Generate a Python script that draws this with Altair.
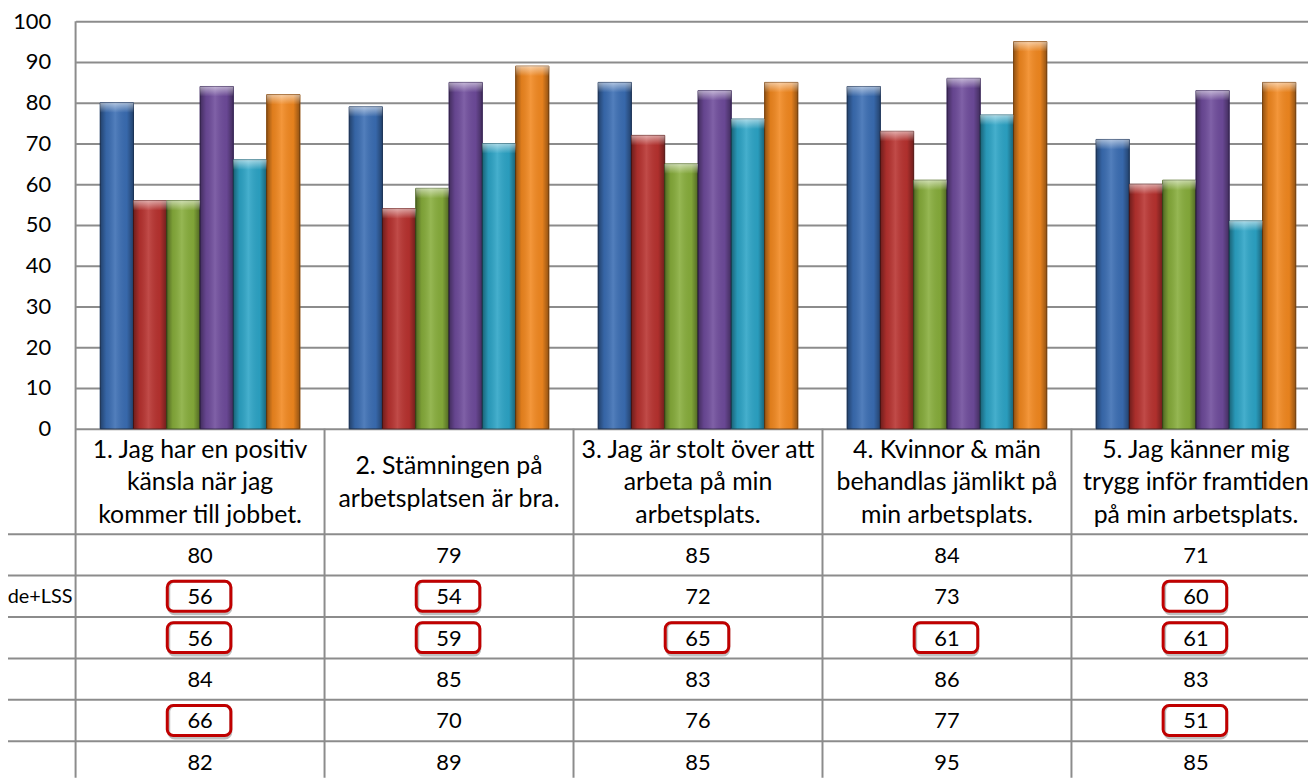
import altair as alt
import pandas as pd

# ---------------- data ----------------
categories = [
    "1. Jag har en positiv\nkänsla när jag\nkommer till jobbet.",
    "2. Stämningen på\narbetsplatsen är bra.",
    "3. Jag är stolt över att\narbeta på min\narbetsplats.",
    "4. Kvinnor & män\nbehandlas jämlikt på\nmin arbetsplats.",
    "5. Jag känner mig\ntrygg inför framtiden\npå min arbetsplats.",
]
series = ["Serie 1", "Serie 2", "Serie 3", "Serie 4", "Serie 5", "Serie 6"]
row_labels = ["", "de+LSS", "", "", "", ""]

s1 = [80, 79, 85, 84, 71]
s2 = [56, 54, 72, 73, 60]
s3 = [56, 59, 65, 61, 61]
s4 = [84, 85, 83, 86, 83]
s5 = [66, 70, 76, 77, 51]
s6 = [82, 89, 85, 95, 85]

# cells marked with a red box in the data table (1 = marked)
m1 = [0, 0, 0, 0, 0]
m2 = [1, 1, 0, 0, 1]
m3 = [1, 1, 1, 1, 1]
m4 = [0, 0, 0, 0, 0]
m5 = [1, 0, 0, 0, 1]
m6 = [0, 0, 0, 0, 0]

y_ticks = list(range(0, 101, 10))

# ---------------- styles / layout ----------------
fills = ["#3A6DB3", "#B8322F", "#87AD3B", "#6E4B9B", "#2CA4C6", "#F2881F"]
strokes = ["#1E3A66", "#6E1C1A", "#4F6B1F", "#3C2660", "#1B6276", "#92500F"]
FONT = "Lato"
FS = 22
FS_HEAD = 25
FS_ROWLAB = 20
LH_HEAD = 32.5
LINE = "#8C8C8C"

VIEW_W, VIEW_H = 1240, 761
PX_UNIT = 4.1          # pixels per value unit
CAT_PX = 250.5         # pixels per category column
X_MAX = VIEW_W / CAT_PX
Y_MIN = -(VIEW_H - 100 * PX_UNIT) / PX_UNIT
HEADER_PX = 106
ROW_PX = 41.67
LEFT_PX = 68
BAR_W = 33.5 / CAT_PX
GAP = (1 - 6 * BAR_W) / 2
CAP_PX = 10
BOX_W = 64 / CAT_PX
BOX_H = 30 / PX_UNIT

values = [s1, s2, s3, s4, s5, s6]
marked = [m1, m2, m3, m4, m5, m6]

rows = []
for si, (name, vals, mk) in enumerate(zip(series, values, marked)):
    for ci, v in enumerate(vals):
        rows.append(dict(series=name, si=si, ci=ci, value=v, marked=mk[ci],
                         rowlabel=row_labels[si]))
df = pd.DataFrame(rows)
cat_df = pd.DataFrame({"ci": list(range(len(categories))), "label": categories,
                       "nlines": [c.count("\n") + 1 for c in categories]})
lab_df = pd.DataFrame({"si": list(range(len(series))), "rowlabel": row_labels})

xscale = alt.Scale(domain=[0, X_MAX], nice=False, zero=False)
yscale = alt.Scale(domain=[Y_MIN, 100], nice=False, zero=False)
yaxis = alt.Axis(values=y_ticks, title=None, grid=True, domain=False, ticks=False,
                 labelPadding=25, labelFont=FONT, labelFontSize=FS, labelColor="#000",
                 gridColor=LINE, gridWidth=2)


def X(f):
    return alt.X(f, type="quantitative", scale=xscale, axis=None)


def Y(f):
    return alt.Y(f, type="quantitative", scale=yscale, axis=yaxis)


bar_base = alt.Chart(df).transform_calculate(
    x0=f"datum.ci + {GAP} + datum.si * {BAR_W}",
    x1=f"datum.ci + {GAP} + (datum.si + 1) * {BAR_W}",
    capb=f"datum.value - {CAP_PX / PX_UNIT}",
)

bars = bar_base.mark_rect(strokeWidth=1).encode(
    x=X("x0"), x2="x1", y=Y("value"), y2=alt.datum(0),
    fill=alt.Fill("series:N", scale=alt.Scale(domain=series, range=fills), legend=None),
    stroke=alt.Stroke("series:N", scale=alt.Scale(domain=series, range=strokes), legend=None),
)

shade = bar_base.mark_rect(
    fill=alt.Gradient(
        gradient="linear", x1=0, x2=1, y1=0, y2=0,
        stops=[
            alt.GradientStop(color="rgba(0,0,0,0.40)", offset=0),
            alt.GradientStop(color="rgba(0,0,0,0.08)", offset=0.18),
            alt.GradientStop(color="rgba(255,255,255,0.12)", offset=0.45),
            alt.GradientStop(color="rgba(0,0,0,0.05)", offset=0.80),
            alt.GradientStop(color="rgba(0,0,0,0.40)", offset=1),
        ],
    )
).encode(x=X("x0"), x2="x1", y=Y("value"), y2=alt.datum(0))

cap = bar_base.mark_rect(
    fill=alt.Gradient(
        gradient="linear", x1=0, x2=0, y1=0, y2=1,
        stops=[
            alt.GradientStop(color="rgba(255,255,255,0.55)", offset=0),
            alt.GradientStop(color="rgba(255,255,255,0.0)", offset=1),
        ],
    )
).encode(x=X("x0"), x2="x1", y=Y("value"), y2="capb:Q")

# ---------------- data table ----------------
hline_df = pd.DataFrame({"k": list(range(len(series) + 1))})
hlines = alt.Chart(hline_df).transform_calculate(
    yy=f"-({HEADER_PX} + datum.k * {ROW_PX}) / {PX_UNIT}",
    xl=f"{-LEFT_PX / CAT_PX}",
    xr=f"{X_MAX}",
).mark_rule(color=LINE, strokeWidth=2).encode(x=X("xl"), x2="xr:Q", y=Y("yy"))

vline_df = pd.DataFrame({"ci": list(range(len(categories)))})
vlines = alt.Chart(vline_df).transform_calculate(
    top="datum.ci == 0 ? 100 : 0",
    bot=f"{Y_MIN}",
).mark_rule(color=LINE, strokeWidth=2).encode(x=X("ci"), y=Y("top"), y2="bot:Q")

header = alt.Chart(cat_df).transform_calculate(
    cx="datum.ci + 0.5",
    cy=f"(-{HEADER_PX / 2} + (datum.nlines - 1) / 2 * {LH_HEAD}) / {PX_UNIT}",
).mark_text(font=FONT, fontSize=FS_HEAD, color="#000", lineBreak="\n", lineHeight=LH_HEAD,
            align="center", baseline="middle", dy=1).encode(x=X("cx"), y=Y("cy"), text="label:N")

cell_base = alt.Chart(df).transform_calculate(
    cx="datum.ci + 0.5",
    cy=f"-({HEADER_PX} + (datum.si + 0.5) * {ROW_PX}) / {PX_UNIT}",
)
cells = cell_base.mark_text(font=FONT, fontSize=FS, color="#000", align="center",
                            baseline="middle", dy=1).encode(x=X("cx"), y=Y("cy"), text="value:Q")

box_base = cell_base.transform_filter("datum.marked == 1").transform_calculate(
    bx0=f"datum.cx - 0.004 - {BOX_W / 2}",
    bx1=f"datum.cx - 0.004 + {BOX_W / 2}",
    by0=f"datum.cy - {BOX_H / 2}",
    by1=f"datum.cy + {BOX_H / 2}",
)
box_shadow = box_base.mark_rect(fill="white", fillOpacity=0, stroke="#000", strokeOpacity=0.25,
                                strokeWidth=3, cornerRadius=6, xOffset=1.5, yOffset=2.5).encode(
    x=X("bx0"), x2="bx1:Q", y=Y("by0"), y2="by1:Q")
boxes = box_base.mark_rect(fill="white", fillOpacity=0, stroke="#C00000", strokeWidth=3,
                           cornerRadius=6).encode(x=X("bx0"), x2="bx1:Q", y=Y("by0"), y2="by1:Q")

rlabels = alt.Chart(lab_df).transform_filter("datum.rowlabel != ''").transform_calculate(
    lx=f"{-3 / CAT_PX}",
    ly=f"-({HEADER_PX} + (datum.si + 0.5) * {ROW_PX}) / {PX_UNIT}",
).mark_text(font=FONT, fontSize=FS_ROWLAB, color="#000", align="right", baseline="middle", dy=1).encode(
    x=X("lx"), y=Y("ly"), text="rowlabel:N")

chart = alt.layer(
    bars, shade, cap, hlines, vlines, header, cells, box_shadow, boxes, rlabels
).properties(
    width=VIEW_W, height=VIEW_H,
    autosize=alt.AutoSizeParams(type="none"),
    padding={"left": LEFT_PX, "top": 11, "right": 0, "bottom": 0},
    background="white",
).configure_view(stroke=None)

chart.save("out.html", embed_options={"renderer": "svg", "actions": False})
